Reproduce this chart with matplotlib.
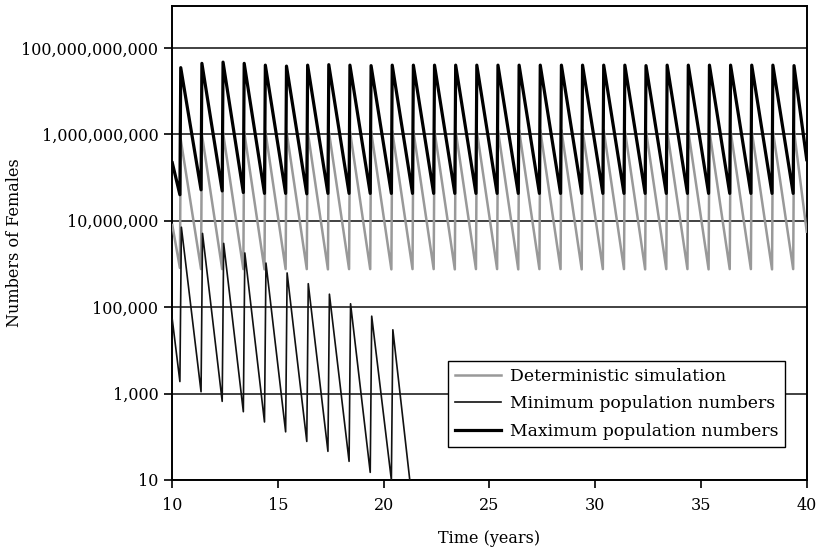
import numpy as np
import matplotlib
matplotlib.use("Agg")
import matplotlib.pyplot as plt
from matplotlib.ticker import FixedLocator, FuncFormatter, NullLocator

# one release per year, the population jumps up at ~0.4 of each year
cycle_years = list(range(10, 40))
jump_start = 0.36   # fraction of year where the trough is
jump_end = 0.40     # fraction of year where the peak is

# deterministic simulation (grey)
det_start = 8.0e6
det_troughs = [8.1e5, 7.6e5, 7.6e5, 7.6e5, 7.5e5, 7.6e5, 7.6e5, 7.5e5, 7.6e5, 7.6e5,
               7.5e5, 7.6e5, 7.6e5, 7.5e5, 7.6e5, 7.6e5, 7.5e5, 7.6e5, 7.6e5, 7.5e5,
               7.6e5, 7.6e5, 7.5e5, 7.6e5, 7.6e5, 7.5e5, 7.6e5, 7.6e5, 7.5e5, 7.6e5]
det_peaks = [7.6e8, 1.0e9, 1.1e9, 1.15e9, 1.2e9, 1.2e9, 1.2e9, 1.2e9, 1.2e9, 1.2e9,
             1.2e9, 1.2e9, 1.2e9, 1.2e9, 1.2e9, 1.25e9, 1.25e9, 1.25e9, 1.25e9, 1.25e9,
             1.25e9, 1.25e9, 1.2e9, 1.2e9, 1.2e9, 1.2e9, 1.2e9, 1.2e9, 1.2e9, 1.2e9]
det_end = 5.6e6

# maximum population numbers (thick black)
max_start = 2.2e8
max_troughs = [4.0e7, 5.2e7, 4.9e7, 4.5e7, 4.3e7, 4.3e7, 4.2e7, 4.3e7, 4.3e7, 4.3e7,
               4.3e7, 4.3e7, 4.3e7, 4.3e7, 4.3e7, 4.3e7, 4.3e7, 4.3e7, 4.3e7, 4.3e7,
               4.3e7, 4.3e7, 4.3e7, 4.3e7, 4.3e7, 4.3e7, 4.3e7, 4.3e7, 4.3e7, 4.3e7]
max_peaks = [3.5e10, 4.4e10, 4.7e10, 4.4e10, 4.0e10, 3.8e10, 4.0e10, 4.1e10, 4.0e10, 3.9e10,
             4.0e10, 4.0e10, 4.0e10, 4.0e10, 4.0e10, 4.0e10, 4.0e10, 4.0e10, 4.0e10, 4.0e10,
             4.0e10, 4.0e10, 3.9e10, 4.0e10, 4.0e10, 4.0e10, 4.0e10, 4.0e10, 4.0e10, 3.9e10]
max_end = 2.6e8

# minimum population numbers (thin black), dies out after year 21
min_years = list(range(10, 21))
min_start = 5.2e4
min_troughs = [1.9e3, 1.1e3, 660, 380, 220, 130, 78, 46, 27, 15, 10]
min_peaks = [7.1e6, 5.1e6, 3.0e6, 1.8e6, 1.05e6, 6.2e5, 3.5e5, 2.0e5, 1.2e5, 6.2e4, 3.0e4]
min_end_t = 21.23
min_end = 10

yticks = [10, 1e3, 1e5, 1e7, 1e9, 1e11]
xticks = [10, 15, 20, 25, 30, 35, 40]


def sawtooth(years, start, troughs, peaks, end, t_end, lag=0.0):
    t = [years[0]]
    v = [start]
    for yr, lo, hi in zip(years, troughs, peaks):
        t += [yr + jump_start, yr + jump_end + lag]
        v += [lo, hi]
    t.append(t_end)
    v.append(end)
    return t, v


plt.rcParams['font.family'] = ['DejaVu Serif']
plt.rcParams['font.size'] = 11.5

fig = plt.figure(figsize=(8.2, 5.49), dpi=100)
ax = fig.add_axes([0.2101, 0.1257, 0.7737, 0.8633])

t, v = sawtooth(cycle_years, det_start, det_troughs, det_peaks, det_end, 40)
ax.plot(t, v, color='#999999', lw=1.8, label='Deterministic simulation', zorder=3)
t, v = sawtooth(min_years, min_start, min_troughs, min_peaks, min_end, min_end_t, lag=0.03)
ax.plot(t, v, color='#111111', lw=1.2, label='Minimum population numbers', zorder=4)
t, v = sawtooth(cycle_years, max_start, max_troughs, max_peaks, max_end, 40)
ax.plot(t, v, color='black', lw=2.3, label='Maximum population numbers', zorder=5)

ax.set_yscale('log')
ax.set_ylim(10, 10 ** 11.97)
ax.set_xlim(10, 40)
ax.yaxis.set_major_locator(FixedLocator(yticks))
ax.yaxis.set_minor_locator(NullLocator())
ax.yaxis.set_major_formatter(FuncFormatter(lambda val, pos: f"{int(round(val)):,}"))
ax.set_xticks(xticks)

ax.grid(axis='y', color='#333333', lw=1.3, zorder=1)
ax.grid(axis='x', visible=False)
ax.tick_params(axis='both', direction='out', length=6, width=1.2, pad=4)
ax.tick_params(axis='x', pad=6)
for s in ax.spines.values():
    s.set_linewidth(1.4)
    s.set_color('black')

ax.set_xlabel('Time (years)', labelpad=12)
ax.set_ylabel('Numbers of Females')
ax.yaxis.set_label_coords(-0.235, 0.5)

leg = ax.legend(loc='lower right', bbox_to_anchor=(0.966, 0.07), borderaxespad=0,
                fancybox=False, framealpha=1, edgecolor='black', handlelength=2.7,
                handletextpad=0.5, labelspacing=0.62, borderpad=0.4, fontsize=12.4)
leg.get_frame().set_linewidth(1.0)
leg.set_zorder(10)

fig.savefig('out.png', dpi=100)
